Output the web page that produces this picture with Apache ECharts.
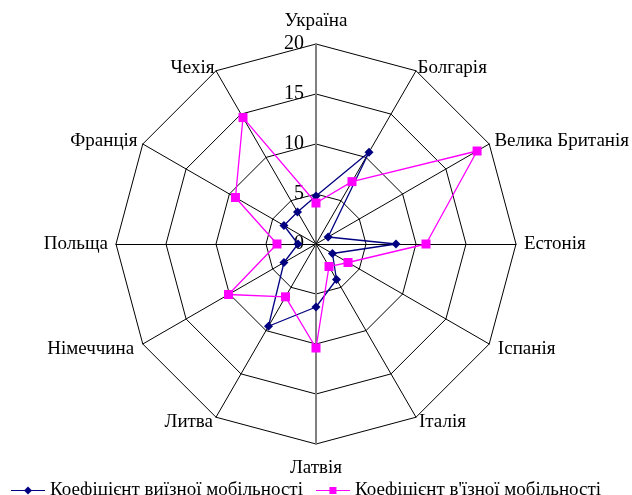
<!DOCTYPE html>
<html>
<head>
<meta charset="utf-8">
<script src="https://cdn.jsdelivr.net/npm/echarts@6/dist/echarts.min.js"></script>
<style>
  html, body { margin: 0; padding: 0; background: #fff; }
  #container { width: 632px; height: 495px; }
</style>
</head>
<body>
<div id="container"></div>
<script>
var dom = document.getElementById('container');
var myChart = echarts.init(dom, null, { renderer: 'canvas' });

// categories in clockwise order, starting at the top
const countries = ['Україна', 'Болгарія', 'Велика Британія', 'Естонія', 'Іспанія', 'Італія',
  'Латвія', 'Литва', 'Німеччина', 'Польща', 'Франція', 'Чехія'];
const outgoing = [4.8, 10.6, 1.4, 8.0, 1.9, 4.1, 6.3, 9.5, 3.7, 1.8, 3.7, 3.7];
const incoming = [4.1, 7.2, 18.6, 11.0, 3.7, 2.6, 10.4, 6.1, 10.1, 3.9, 9.3, 14.6];
const seriesNames = ['Коефіцієнт виїзної мобільності', 'Коефіцієнт в\'їзної мобільності'];
const colors = ['#000080', '#FF00FF'];

const font = "'Liberation Serif', 'Times New Roman', serif";

// echarts radar runs counterclockwise, so reorder
function ccw(arr) {
  return [arr[0]].concat(arr.slice(1).reverse());
}

const grayAxis = { lineStyle: { color: '#808080', width: 2 } };

// gap between outer polygon and the country name, clockwise from the top
const nameGaps = [23, 3, 6, 8, 10, 6, 24, 6, 10, 8, 6, 3];
const gapOf = {};
countries.forEach(function (c, i) { gapOf[c] = nameGaps[i]; });

const indicator = ccw(countries).map(function (name) {
  var ind = { name: name, min: 0, max: 20, nameGap: gapOf[name] };
  if (name === 'Україна') {
    ind.axisLabel = { show: true };
    ind.axisLine = grayAxis;
  }
  if (name === 'Латвія') {
    ind.axisLine = grayAxis;
  }
  return ind;
});

var option = {
  animation: false,
  color: colors,
  textStyle: { fontFamily: font },
  legend: {
    top: 476,
    left: 6,
    itemWidth: 34,
    itemHeight: 8,
    itemGap: 13,
    textStyle: { fontFamily: font, fontSize: 19, color: '#000' },
    data: [
      { name: seriesNames[0], icon: 'path://M0,3.4L34,3.4L34,4.6L0,4.6Z M17,0L21,4L17,8L13,4Z' },
      { name: seriesNames[1], icon: 'path://M0,3.4L34,3.4L34,4.6L0,4.6Z M13.5,0.5L20.5,0.5L20.5,7.5L13.5,7.5Z M0,0L0,0 M34,8L34,8' }
    ]
  },
  radar: {
    center: [316, 244],
    radius: 200,
    startAngle: 90,
    shape: 'polygon',
    splitNumber: 4,
    indicator: indicator,
    axisName: { color: '#000', fontFamily: font, fontSize: 19, verticalAlign: 'middle' },
    axisLine: { lineStyle: { color: '#000', width: 1 } },
    splitLine: { lineStyle: { color: '#000', width: 1 } },
    splitArea: { show: false },
    axisTick: { show: false },
    axisLabel: {
      show: false,
      color: '#000',
      fontFamily: font,
      fontSize: 20,
      margin: 12
    }
  },
  series: [
    {
      type: 'radar',
      symbolSize: 9,
      data: [
        {
          name: seriesNames[0],
          value: ccw(outgoing),
          symbol: 'diamond',
          lineStyle: { color: colors[0], width: 1.3 },
          itemStyle: { color: colors[0] }
        },
        {
          name: seriesNames[1],
          value: ccw(incoming),
          symbol: 'rect',
          lineStyle: { color: colors[1], width: 1.3 },
          itemStyle: { color: colors[1] }
        }
      ]
    }
  ]
};

myChart.setOption(option);
window.addEventListener('resize', myChart.resize);
</script>
</body>
</html>
